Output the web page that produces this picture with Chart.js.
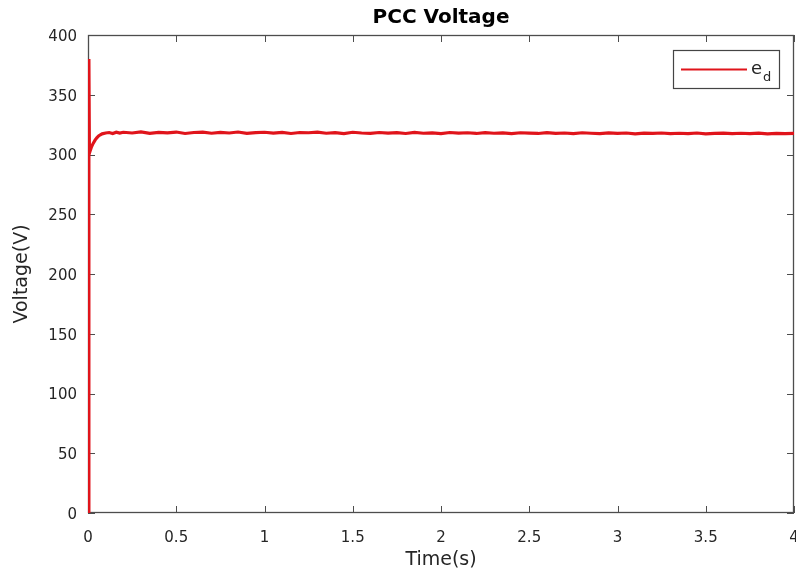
<!DOCTYPE html>
<html>
<head>
<meta charset="utf-8">
<script src="https://cdn.jsdelivr.net/npm/chart.js@4.4.1/dist/chart.umd.min.js"></script>
<style>
  body { margin: 0; background: #fff; }
  #wrap { width: 796px; height: 575px; position: relative; }
</style>
</head>
<body>
<div id="wrap"><canvas id="pccChart"></canvas></div>
<script>
// 時間軸 (s)
var timeS = [
  0.002, 0.005, 0.008, 0.012, 0.02, 0.03, 0.04, 0.05, 0.06, 0.07, 0.08, 0.1,
  0.12, 0.14, 0.16, 0.18, 0.2,
  0.25, 0.3, 0.35, 0.4, 0.45, 0.5, 0.55, 0.6, 0.65, 0.7,
  0.75, 0.8, 0.85, 0.9, 0.95, 1.0, 1.05, 1.1, 1.15, 1.2,
  1.25, 1.3, 1.35, 1.4, 1.45, 1.5, 1.55, 1.6, 1.65, 1.7,
  1.75, 1.8, 1.85, 1.9, 1.95, 2.0, 2.05, 2.1, 2.15, 2.2,
  2.25, 2.3, 2.35, 2.4, 2.45, 2.5, 2.55, 2.6, 2.65, 2.7,
  2.75, 2.8, 2.85, 2.9, 2.95, 3.0, 3.05, 3.1, 3.15, 3.2,
  3.25, 3.3, 3.35, 3.4, 3.45, 3.5, 3.55, 3.6, 3.65, 3.7,
  3.75, 3.8, 3.85, 3.9, 3.95, 4.0
];
// PCC 電壓 e_d (V)
var edVoltage = [
  0, 380, 301, 303, 306.5, 309.5, 312, 314, 315.5, 316.5, 317.3, 318,
  318.4, 317.6, 318.7, 317.9, 318.6,
  318.0, 318.9, 317.7, 318.5, 318.1, 318.8, 317.6, 318.4, 318.7, 317.8,
  318.5, 318.0, 318.8, 317.7, 318.3, 318.6, 317.9, 318.5, 317.6, 318.4,
  318.2, 318.7, 317.8, 318.3, 317.5, 318.6, 318.0, 317.7, 318.4, 317.9,
  318.3, 317.6, 318.5, 317.8, 318.1, 317.5, 318.4, 317.9, 318.2, 317.6,
  318.3, 317.8, 318.1, 317.4, 318.2, 317.9, 317.6, 318.3, 317.7, 318.0,
  317.5, 318.2, 317.8, 317.4, 318.1, 317.7, 318.0, 317.3, 317.9, 317.6,
  318.0, 317.4, 317.8, 317.5, 318.0, 317.3, 317.7, 317.9, 317.4, 317.8,
  317.5, 317.9, 317.3, 317.7, 317.4, 317.6
];
var xTickStep = 0.5;
var yTickStep = 50;
var xRange = [0, 4];
var yRange = [0, 400];
var chartTitle = 'PCC Voltage';

var FONT = "'DejaVu Sans', sans-serif";
var AXIS_COLOR = '#4d4d4d';
var TEXT_COLOR = '#262626';
var LINE_COLOR = '#e0141b';

// 外框與內側刻度（先畫，讓曲線蓋在上面）
var matlabFrame = {
  id: 'matlabFrame',
  beforeDatasetsDraw: function(chart) {
    var ctx = chart.ctx;
    var a = chart.chartArea;
    var xs = chart.scales.x, ys = chart.scales.y;
    var tl = 7;
    ctx.save();
    ctx.strokeStyle = AXIS_COLOR;
    ctx.lineWidth = 1.3;
    ctx.strokeRect(a.left + 0.5, a.top + 0.5, a.right - a.left - 1, a.bottom - a.top - 1);
    ctx.lineWidth = 1;
    ctx.beginPath();
    xs.ticks.forEach(function(t) {
      var px = Math.round(xs.getPixelForValue(t.value)) + 0.5;
      ctx.moveTo(px, a.bottom); ctx.lineTo(px, a.bottom - tl);
      ctx.moveTo(px, a.top); ctx.lineTo(px, a.top + tl);
    });
    ys.ticks.forEach(function(t) {
      var py = Math.round(ys.getPixelForValue(t.value)) + 0.5;
      ctx.moveTo(a.left, py); ctx.lineTo(a.left + tl, py);
      ctx.moveTo(a.right, py); ctx.lineTo(a.right - tl, py);
    });
    ctx.stroke();

    // 標題置中於繪圖區
    ctx.fillStyle = '#000';
    ctx.font = 'bold 20px ' + FONT;
    ctx.textAlign = 'center';
    ctx.textBaseline = 'middle';
    ctx.fillText(chartTitle, (a.left + a.right) / 2, 18);
    ctx.restore();
  },
  // 圖例
  afterDraw: function(chart) {
    var ctx = chart.ctx;
    var bx = 673, by = 50, bw = 106, bh = 38;
    ctx.save();
    ctx.fillStyle = '#fff';
    ctx.fillRect(bx, by, bw, bh);
    ctx.strokeStyle = '#444';
    ctx.lineWidth = 1.2;
    ctx.strokeRect(bx + 0.5, by + 0.5, bw, bh);
    ctx.strokeStyle = LINE_COLOR;
    ctx.lineWidth = 2;
    ctx.beginPath();
    ctx.moveTo(681, by + 19.5); ctx.lineTo(747, by + 19.5);
    ctx.stroke();
    ctx.fillStyle = TEXT_COLOR;
    ctx.textBaseline = 'alphabetic';
    ctx.textAlign = 'left';
    ctx.font = '18px ' + FONT;
    ctx.fillText('e', 751, by + 24);
    ctx.font = '13px ' + FONT;
    ctx.fillText('d', 763, by + 31);
    ctx.restore();
  }
};

var ctx = document.getElementById('pccChart').getContext('2d');
var pccChart = new Chart(ctx, {
  type: 'line',
  data: {
    datasets: [{
      label: 'e_d',
      data: timeS.map(function(t, i) { return { x: t, y: edVoltage[i] }; }),
      borderColor: LINE_COLOR,
      borderWidth: 3.2,
      pointRadius: 0,
      tension: 0,
      fill: false
    }]
  },
  options: {
    responsive: true,
    maintainAspectRatio: false,
    animation: false,
    layout: { padding: { left: 0, right: 2, top: 35, bottom: 0 } },
    plugins: {
      legend: { display: false },
      tooltip: { enabled: false },
      title: { display: false }
    },
    scales: {
      x: {
        type: 'linear',
        min: xRange[0],
        max: xRange[1],
        grid: { display: false, drawTicks: false },
        border: { display: false },
        ticks: {
          stepSize: xTickStep,
          color: TEXT_COLOR,
          font: { family: FONT, size: 15 },
          padding: 16,
          maxRotation: 0,
          autoSkip: false,
          callback: function(v) { return String(v); }
        },
        title: {
          display: true,
          text: 'Time(s)',
          color: TEXT_COLOR,
          font: { family: FONT, size: 19 },
          padding: { top: 0, bottom: 4 }
        },
        afterFit: function(scale) {
          scale.height = 62;
          scale.paddingLeft = 0;
          scale.paddingRight = 0;
        }
      },
      y: {
        min: yRange[0],
        max: yRange[1],
        grid: { display: false, drawTicks: false },
        border: { display: false },
        ticks: {
          stepSize: yTickStep,
          color: TEXT_COLOR,
          font: { family: FONT, size: 15 },
          padding: 11,
          labelOffset: 2
        },
        title: {
          display: true,
          text: 'Voltage(V)',
          color: TEXT_COLOR,
          font: { family: FONT, size: 19 },
          padding: { top: 11, bottom: 0 }
        },
        afterFit: function(scale) {
          scale.width = 88;
        }
      }
    }
  },
  plugins: [matlabFrame]
});
</script>
</body>
</html>
